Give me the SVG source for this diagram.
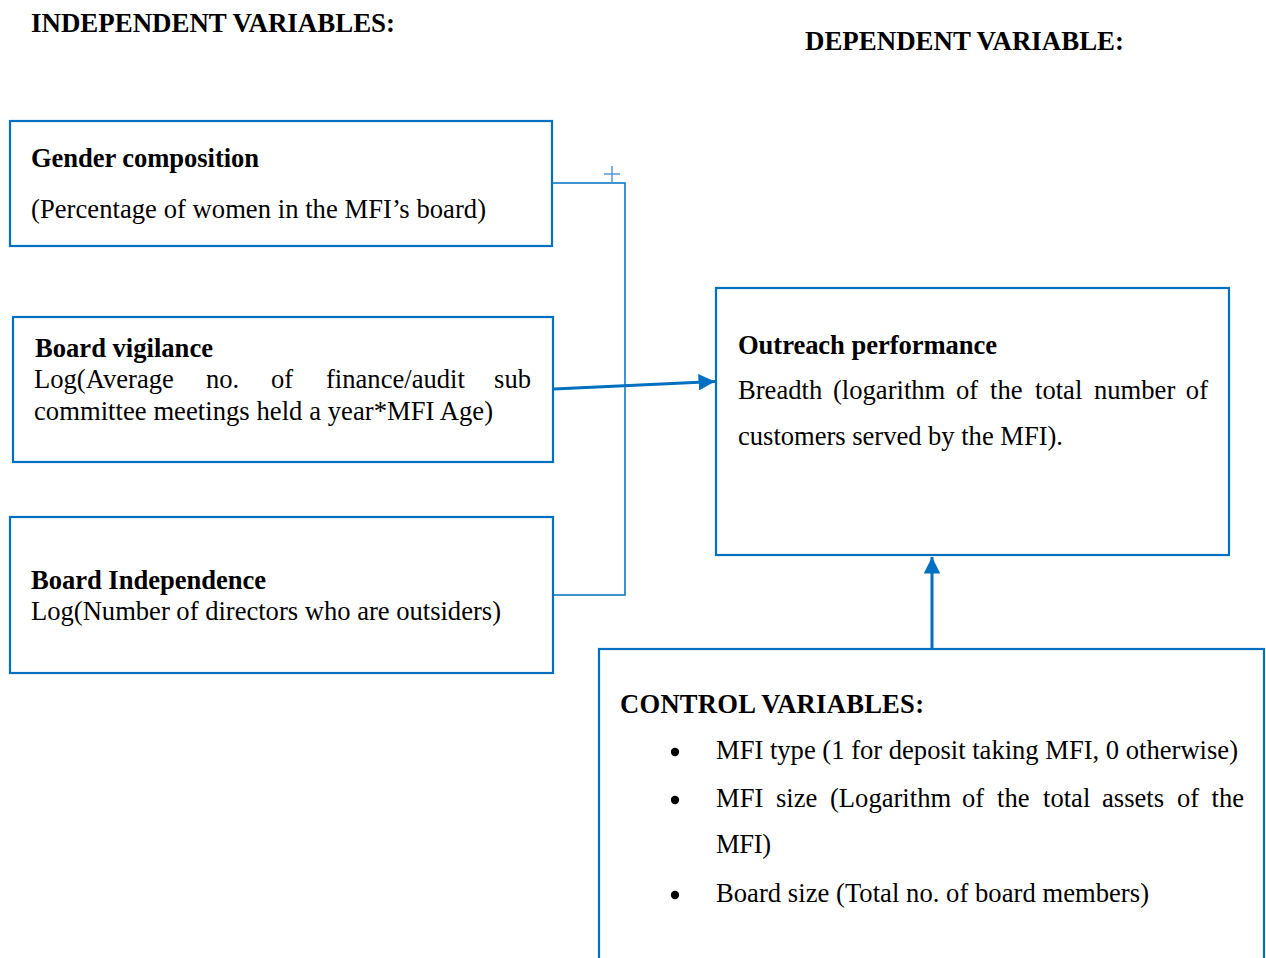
<svg xmlns="http://www.w3.org/2000/svg" width="1266" height="958" viewBox="0 0 1266 958">
<defs>
<style>
.box{fill:#fff;stroke:#0070C0;stroke-width:2.2}
.t{font-family:"Liberation Serif","Times New Roman",serif;font-size:26.6px;fill:#000}
.b{font-weight:bold}
.con{fill:none;stroke:#0070C0;stroke-width:1.5}
.arr{fill:none;stroke:#0070C0;stroke-width:3}
</style>
<marker id="ah" viewBox="0 0 10 10" refX="10" refY="5" markerWidth="5.5" markerHeight="5.5" orient="auto" markerUnits="strokeWidth">
<path d="M0,0 L10,5 L0,10 Z" fill="#0070C0"/>
</marker>
</defs>
<rect width="1266" height="958" fill="#fff"/>
<g id="headings">
<text class="t b" x="31" y="32" textLength="364" lengthAdjust="spacingAndGlyphs">INDEPENDENT VARIABLES:</text>
<text class="t b" x="805" y="50" textLength="319" lengthAdjust="spacingAndGlyphs">DEPENDENT VARIABLE:</text>
</g>
<g id="connectors">
<polyline class="con" points="552,183 625,183 625,595 553,595"/>
<path d="M604,174 H620 M612,166 V182" stroke="#5E95CF" stroke-width="1.5" fill="none"/>
<line class="arr" x1="554" y1="389" x2="715" y2="381.5" marker-end="url(#ah)"/>
<line class="arr" x1="932" y1="648" x2="932" y2="557" marker-end="url(#ah)"/>
</g>
<g id="gender">
<rect class="box" x="10" y="121" width="542" height="125"/>
<text class="t b" x="31" y="167" textLength="228">Gender composition</text>
<text class="t" x="31" y="218" textLength="455">(Percentage of women in the MFI’s board)</text>
</g>
<g id="vigilance">
<rect class="box" x="13" y="317" width="540" height="145"/>
<text class="t b" x="35" y="357" textLength="178">Board vigilance</text>
<text class="t" y="388"><tspan x="34">Log(Average</tspan><tspan x="206">no.</tspan><tspan x="271">of</tspan><tspan x="326">finance/audit</tspan><tspan x="531" text-anchor="end">sub</tspan></text>
<text class="t" x="34" y="420" textLength="459">committee meetings held a year*MFI Age)</text>
</g>
<g id="independence">
<rect class="box" x="10" y="517" width="543" height="156"/>
<text class="t b" x="31" y="589" textLength="235">Board Independence</text>
<text class="t" x="31" y="620" textLength="470">Log(Number of directors who are outsiders)</text>
</g>
<g id="outreach">
<rect class="box" x="716" y="288" width="513" height="267"/>
<text class="t b" x="738" y="354" textLength="259">Outreach performance</text>
<text class="t" y="399"><tspan x="738">Breadth</tspan><tspan x="833">(logarithm</tspan><tspan x="956">of</tspan><tspan x="990">the</tspan><tspan x="1035">total</tspan><tspan x="1094">number</tspan><tspan x="1208" text-anchor="end">of</tspan></text>
<text class="t" x="738" y="445" textLength="325">customers served by the MFI).</text>
</g>
<g id="control">
<rect class="box" x="599" y="649" width="665" height="330"/>
<text class="t b" x="620" y="713" textLength="304">CONTROL VARIABLES:</text>
<circle cx="675" cy="752" r="4.2" fill="#000"/>
<circle cx="675" cy="800" r="4.2" fill="#000"/>
<circle cx="675" cy="895" r="4.2" fill="#000"/>
<text class="t" x="716" y="759" textLength="522">MFI type (1 for deposit taking MFI, 0 otherwise)</text>
<text class="t" y="807"><tspan x="716">MFI</tspan><tspan x="776">size</tspan><tspan x="830">(Logarithm</tspan><tspan x="962">of</tspan><tspan x="997">the</tspan><tspan x="1043">total</tspan><tspan x="1102">assets</tspan><tspan x="1177">of</tspan><tspan x="1244" text-anchor="end">the</tspan></text>
<text class="t" x="716" y="853" textLength="55">MFI)</text>
<text class="t" x="716" y="902" textLength="433">Board size (Total no. of board members)</text>
</g>
</svg>
